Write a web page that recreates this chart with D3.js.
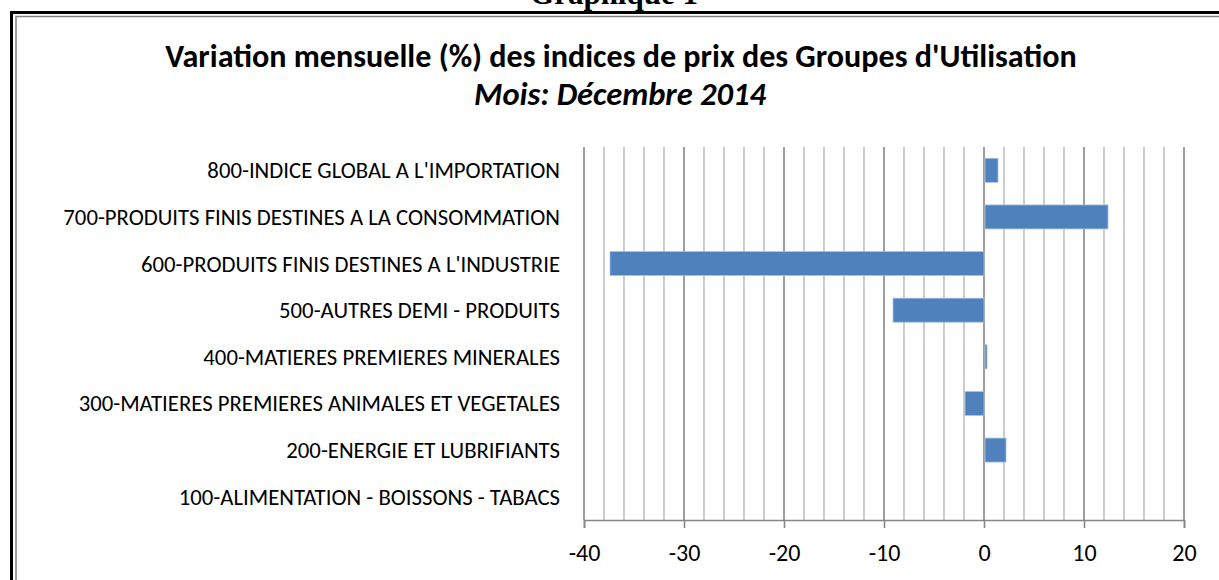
<!DOCTYPE html>
<html>
<head>
<meta charset="utf-8">
<script src="https://cdn.jsdelivr.net/npm/d3@7"></script>
<style>
    body { margin: 0; background: #fff; }
    svg text { font-family: Carlito, "Open Sans", sans-serif; fill: #000; }
</style>
</head>
<body>
<div class="container"></div>
<script>
// data
var categories = [
    "100-ALIMENTATION - BOISSONS - TABACS",
    "200-ENERGIE ET LUBRIFIANTS",
    "300-MATIERES PREMIERES ANIMALES ET VEGETALES",
    "400-MATIERES PREMIERES MINERALES",
    "500-AUTRES DEMI - PRODUITS",
    "600-PRODUITS FINIS DESTINES A L'INDUSTRIE",
    "700-PRODUITS FINIS DESTINES A LA CONSOMMATION",
    "800-INDICE GLOBAL A L'IMPORTATION"
];
var variations = [0, 2.1, -1.9, 0.2, -9.1, -37.4, 12.3, 1.3];
var xTicks = [-40, -30, -20, -10, 0, 10, 20];
var xDomain = [-40, 20];

var width = 1219, height = 580;
var plotTop = 147, plotBottom = 520;
var plotLeft = 584, plotRight = 1184;

var svg = d3.select(".container")
    .append("svg")
    .attr("width", width)
    .attr("height", height);

// shrink/grow a text so it fills the width seen in the picture
function fitText(sel, target) {
    var size = parseFloat(sel.style("font-size"));
    var w = sel.node().getComputedTextLength();
    sel.style("font-size", (size * target / w) + "px");
}

// page header, cut off at the top
svg.append("text")
    .attr("x", 614)
    .attr("y", 4)
    .attr("text-anchor", "middle")
    .style("font-family", "'Liberation Serif', serif")
    .style("font-weight", "bold")
    .style("font-size", "31px")
    .text("Graphique 1");

// double frame (left and top only, the rest is off the page)
svg.append("path")
    .attr("d", "M11.5,580 V12.5 H1219")
    .attr("fill", "none")
    .attr("stroke", "#000")
    .attr("stroke-width", 3);
svg.append("path")
    .attr("d", "M16,580 V16.5 H1219")
    .attr("fill", "none")
    .attr("stroke", "#808080")
    .attr("stroke-width", 1.5);

// titles
var title = svg.append("text")
    .attr("x", 621)
    .attr("y", 67)
    .attr("text-anchor", "middle")
    .style("font-weight", "bold")
    .style("font-size", "26px")
    .text("Variation mensuelle (%) des indices de prix des Groupes d'Utilisation");
fitText(title, 912);

var subtitle = svg.append("text")
    .attr("x", 620)
    .attr("y", 105)
    .attr("text-anchor", "middle")
    .style("font-weight", "bold")
    .style("font-style", "italic")
    .style("font-size", "26px")
    .text("Mois: Décembre 2014");
fitText(subtitle, 292);

var x = d3.scaleLinear().domain(xDomain).range([plotLeft, plotRight]);
var y = d3.scaleBand()
    .domain(categories.slice().reverse())
    .range([plotTop, plotBottom]);

// vertical gridlines every 2, darker every 10
var grid = svg.append("g");
grid.selectAll("line")
    .data(x.ticks(30))
    .enter()
        .append("line")
        .attr("x1", d => x(d))
        .attr("x2", d => x(d))
        .attr("y1", plotTop)
        .attr("y2", plotBottom)
        .attr("stroke", d => d % 10 === 0 ? "#868686" : "#c0c0c0")
        .attr("stroke-width", 1.6);

// bars
var barH = y.bandwidth() * 0.515;
svg.append("g")
    .selectAll("rect")
    .data(categories.map((c, i) => [c, variations[i]]))
    .enter()
        .append("rect")
        .attr("x", d => x(Math.min(0, d[1])) + (d[1] > 0 ? 1 : 0))
        .attr("width", d => Math.abs(x(d[1]) - x(0)))
        .attr("y", d => y(d[0]) + (y.bandwidth() - barH) / 2)
        .attr("height", barH)
        .attr("fill", d => d[1] === 0 ? "none" : "#4f81bd")
        .attr("stroke", d => d[1] === 0 ? "none" : "#a9c3e3")
        .attr("stroke-width", 0.8);

// bottom axis, plain hyphen for the minus sign like the original
var xAxis = svg.append("g")
    .attr("transform", "translate(0," + plotBottom + ")")
    .call(d3.axisBottom(x).tickValues(xTicks).tickSize(8).tickPadding(16)
        .tickFormat(d => String(d)));
xAxis.select(".domain").attr("stroke", "#868686").attr("stroke-width", 1.6);
xAxis.selectAll(".tick line").attr("stroke", "#868686").attr("stroke-width", 1.6);
xAxis.selectAll(".tick text")
    .attr("font-size", null)
    .style("font-family", "Carlito, 'Open Sans', sans-serif")
    .style("font-size", "24px")
    .attr("fill", "#000");

// category labels, right aligned before the plot
var labels = svg.append("g")
    .selectAll("text")
    .data(categories)
    .enter()
        .append("text")
        .attr("x", 560)
        .attr("y", d => y(d) + y.bandwidth() / 2)
        .attr("dy", "0.35em")
        .attr("text-anchor", "end")
        .style("font-size", "18px")
        .text(d => d);
// the longest one spans about 497 px
var longest = labels.filter((d, i) => i === 6);
fitText(longest, 497);
labels.style("font-size", longest.style("font-size"));
</script>
</body>
</html>
